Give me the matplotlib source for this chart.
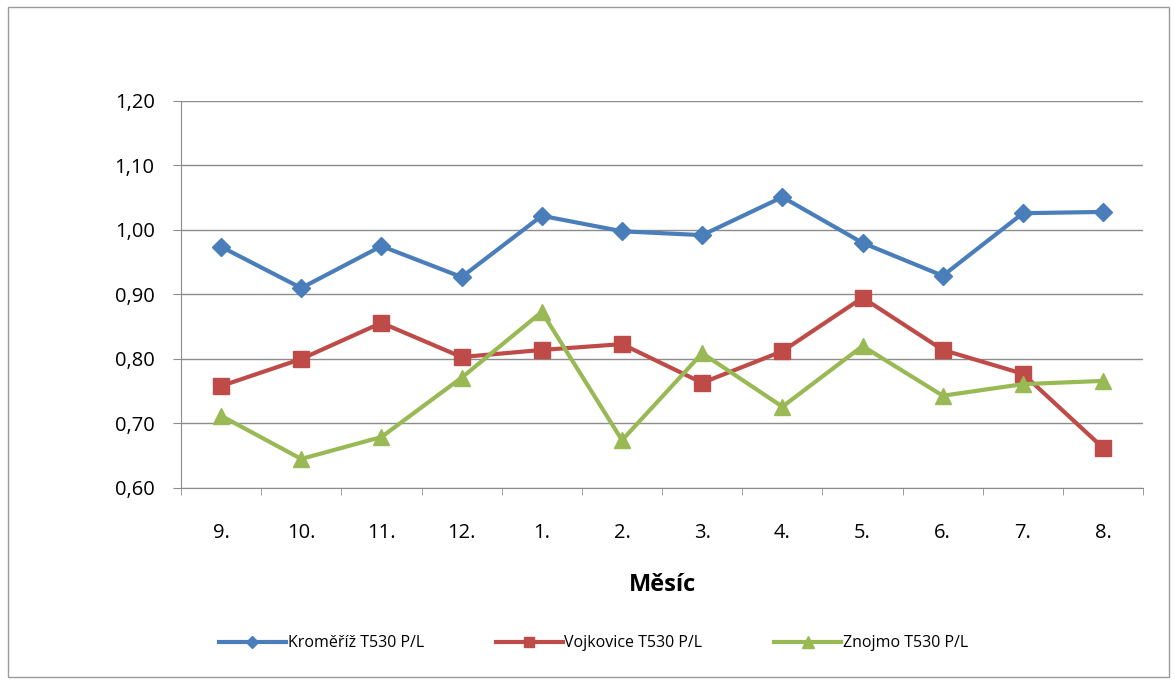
import matplotlib.pyplot as plt
from matplotlib.patches import Rectangle
from matplotlib.ticker import FixedLocator, FuncFormatter

months = ["9.", "10.", "11.", "12.", "1.", "2.", "3.", "4.", "5.", "6.", "7.", "8."]
kromeriz = [0.974, 0.910, 0.975, 0.927, 1.022, 0.998, 0.992, 1.051, 0.980, 0.929, 1.026, 1.028]
vojkovice = [0.758, 0.800, 0.856, 0.803, 0.814, 0.823, 0.763, 0.812, 0.895, 0.814, 0.777, 0.662]
znojmo = [0.712, 0.645, 0.679, 0.771, 0.873, 0.674, 0.809, 0.726, 0.820, 0.743, 0.761, 0.766]

plt.rcParams['font.family'] = ['Open Sans', 'DejaVu Sans']

fig = plt.figure(figsize=(11.75, 6.8), dpi=100)
ax = fig.add_axes([0.154, 0.2824, 0.819, 0.5691])

# chart area border
fig.patches.append(Rectangle((0.007, 0.004), 0.988, 0.985, transform=fig.transFigure,
                             fill=False, edgecolor='#9a9a9a', linewidth=1))

x = [i + 0.5 for i in range(len(months))]
ax.plot(x, kromeriz, color='#4A7EBB', lw=3, marker='D', ms=9, label='Kroměříž T530 P/L')
ax.plot(x, vojkovice, color='#BE4B48', lw=3, marker='s', ms=11, label='Vojkovice T530 P/L')
ax.plot(x, znojmo, color='#98B954', lw=3, marker='^', ms=12, label='Znojmo T530 P/L')

ax.set_xlim(0, 12)
ax.set_ylim(0.6, 1.2)
ax.set_yticks([0.6, 0.7, 0.8, 0.9, 1.0, 1.1, 1.2])
ax.yaxis.set_major_formatter(FuncFormatter(lambda v, p: f"{v:.2f}".replace('.', ',')))
ax.yaxis.grid(True, color='#8c8c8c', lw=1)
ax.set_axisbelow(True)

ax.set_xticks(x)
ax.set_xticklabels(months)
ax.xaxis.set_minor_locator(FixedLocator(range(13)))
ax.tick_params(axis='x', which='major', length=0, pad=25, labelsize=14.5)
ax.tick_params(axis='x', which='minor', length=5, color='#8c8c8c', direction='out')
ax.tick_params(axis='y', length=6, color='#8c8c8c', labelsize=14.5, pad=13)

for s in ['top', 'right']:
    ax.spines[s].set_visible(False)
for s in ['left', 'bottom']:
    ax.spines[s].set_color('#8c8c8c')

ax.set_xlabel('Měsíc', fontsize=17, fontweight='bold', labelpad=22)

fig.legend(loc='center', bbox_to_anchor=(0.505, 0.054), ncol=3, frameon=False,
           fontsize=11.5, handlelength=4.2, columnspacing=4.5, handletextpad=0.1,
           markerscale=0.7)

fig.savefig('out.png', dpi=100)
